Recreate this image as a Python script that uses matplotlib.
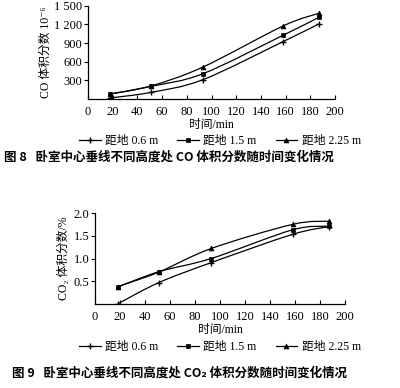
import numpy as np
import matplotlib
matplotlib.use("Agg")
import matplotlib.pyplot as plt
from matplotlib.path import Path
from matplotlib.patches import PathPatch
from matplotlib.lines import Line2D

plt.rcParams.update({
    "font.family": ["Liberation Serif", "DejaVu Serif", "Noto Sans CJK SC"],
    "font.size": 9,
})
CAPTION_FONT = ["Noto Sans CJK SC", "DejaVu Sans"]

# ── data ──
t = [18, 51, 93, 158, 187]
co_06 = [16, 106, 310, 924, 1208]
co_15 = [80, 202, 406, 1026, 1315]
co_225 = [80, 210, 513, 1176, 1380]

co2_06 = [0.0, 0.47, 0.91, 1.53, 1.70]
co2_15 = [0.37, 0.71, 1.00, 1.63, 1.71]
co2_225 = [0.38, 0.70, 1.22, 1.75, 1.82]

legend_labels = ["距地 0.6 m", "距地 1.5 m", "距地 2.25 m"]
markers = ["+", "s", "^"]
msizes = [4, 3.5, 3.5]


def smooth_path(x, y):
    # Catmull-Rom through the measured points, drawn as cubic Beziers
    x = np.asarray(x, float)
    y = np.asarray(y, float)
    pts = np.column_stack([x, y])
    verts = [pts[0]]
    codes = [Path.MOVETO]
    n = len(pts)
    for i in range(n - 1):
        p0 = pts[i - 1] if i > 0 else pts[i]
        p1, p2 = pts[i], pts[i + 1]
        p3 = pts[i + 2] if i + 2 < n else pts[i + 1]
        c1 = p1 + (p2 - p0) / 6.0
        c2 = p2 - (p3 - p1) / 6.0
        verts += [c1, c2, p2]
        codes += [Path.CURVE4] * 3
    return Path(verts, codes)


def draw(ax, series, ylim, yticks, yticklabels):
    for ys, m, ms in zip(series, markers, msizes):
        ax.add_patch(PathPatch(smooth_path(t, ys), fill=False,
                               edgecolor="black", lw=0.9))
        ax.plot(t, ys, ls="none", marker=m, ms=ms, color="black",
                mew=1.0 if m == "+" else 0.5)
    ax.set_xlim(0, 200)
    ax.set_ylim(*ylim)
    ax.set_xticks(range(0, 201, 20))
    ax.set_yticks(yticks)
    ax.set_yticklabels(yticklabels)
    for s in ["top", "right"]:
        ax.spines[s].set_visible(False)
    for s in ["left", "bottom"]:
        ax.spines[s].set_linewidth(0.9)
    ax.tick_params(axis="x", direction="in", length=3, width=0.8,
                   labelsize=9, pad=5)
    ax.tick_params(axis="y", direction="out", length=3, width=0.8,
                   labelsize=9, pad=1)
    ax.set_xlabel("时间/min", fontsize=8.5, labelpad=1)


def add_legend(fig, y):
    handles = [Line2D([], [], color="black", lw=0.9, marker=m, ms=ms,
                      mew=1.0 if m == "+" else 0.5)
               for m, ms in zip(markers, msizes)]
    fig.legend(handles, legend_labels, loc="center",
               bbox_to_anchor=(0.55, y), ncol=3, frameon=False,
               fontsize=8.5, handlelength=1.8, handletextpad=0.4,
               columnspacing=1.6)


fig = plt.figure(figsize=(4.0, 3.88), dpi=100)

ax1 = fig.add_axes([0.22, 0.745, 0.6175, 0.24])
draw(ax1, [co_06, co_15, co_225], (0, 1500),
     [300, 600, 900, 1200, 1500], ["300", "600", "900", "1 200", "1 500"])
ax1.set_ylabel("CO 体积分数 10⁻⁶", fontsize=8.5, labelpad=2)
add_legend(fig, 1 - 141 / 388)
fig.text(0.01, 1 - 157 / 388,
         "图 8   卧室中心垂线不同高度处 CO 体积分数随时间变化情况",
         fontsize=9, fontweight="bold", family=CAPTION_FONT,
         va="center", ha="left")

ax2 = fig.add_axes([0.2375, 0.2165, 0.625, 0.2345])
draw(ax2, [co2_06, co2_15, co2_225], (0, 2.0),
     [0.5, 1.0, 1.5, 2.0], ["0.5", "1.0", "1.5", "2.0"])
ax2.set_ylabel("CO₂ 体积分数/%", fontsize=8.5, labelpad=3)
add_legend(fig, 1 - 347 / 388)
fig.text(0.03, 1 - 373 / 388,
         "图 9   卧室中心垂线不同高度处 CO₂ 体积分数随时间变化情况",
         fontsize=9, fontweight="bold", family=CAPTION_FONT,
         va="center", ha="left")

fig.savefig("out.png", dpi=100)
